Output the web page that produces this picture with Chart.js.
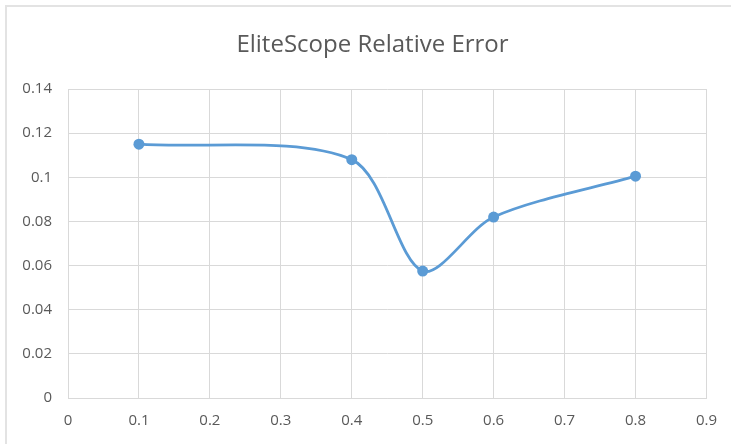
<!DOCTYPE html>
<html>
<head>
<meta charset="utf-8">
<script src="https://cdn.jsdelivr.net/npm/chart.js@4/dist/chart.umd.min.js"></script>
<style>
  html, body { margin: 0; padding: 0; background: #fff; }
  #wrap { position: relative; width: 731px; height: 444px; }
  #frame { position: absolute; left: 5px; top: 5px; right: 0; bottom: 0;
           border-top: 2px solid #e3e3e3; border-left: 2px solid #e3e3e3; }
  canvas { position: absolute; left: 0; top: 0; }
</style>
</head>
<body>
<div id="wrap">
  <div id="frame"></div>
  <canvas id="c" width="731" height="444"></canvas>
</div>
<script>
// Relative error measured at each sampling ratio
const ratios = [0.1, 0.4, 0.5, 0.6, 0.8];
const relativeError = [0.115, 0.108, 0.0575, 0.082, 0.1005];
const xTicks = [0, 0.1, 0.2, 0.3, 0.4, 0.5, 0.6, 0.7, 0.8, 0.9];
const yTicks = [0, 0.02, 0.04, 0.06, 0.08, 0.1, 0.12, 0.14];

const FONT = "'Open Sans', 'Liberation Sans', sans-serif";
const TEXT = '#595959';
const GRID = '#d9d9d9';
const BLUE = '#5b9bd5';

new Chart(document.getElementById('c'), {
  type: 'scatter',
  data: {
    datasets: [{
      data: ratios.map((r, i) => ({ x: r, y: relativeError[i] })),
      showLine: true,
      borderColor: BLUE,
      backgroundColor: BLUE,
      borderWidth: 2.75,
      pointRadius: 5.5,
      pointBorderWidth: 0,
      tension: 0.3
    }]
  },
  options: {
    responsive: false,
    animation: false,
    layout: { padding: { left: 14, right: 0, top: 0, bottom: 0 } },
    plugins: {
      legend: { display: false },
      tooltip: { enabled: false },
      title: {
        display: true,
        text: 'EliteScope Relative Error',
        color: TEXT,
        font: { family: FONT, size: 24, weight: 'normal' },
        padding: { top: 31, bottom: 29.2 }
      }
    },
    scales: {
      x: {
        type: 'linear',
        min: 0, max: 0.9,
        afterBuildTicks: s => { s.ticks = xTicks.map(v => ({ value: v })); },
        afterFit: s => { s.height = 46; },
        grid: { color: GRID, lineWidth: 1, drawTicks: false },
        border: { color: GRID },
        ticks: {
          color: TEXT, padding: 14,
          font: { family: FONT, size: 15 },
          callback: v => String(+v.toFixed(2))
        }
      },
      y: {
        type: 'linear',
        min: 0, max: 0.14,
        afterBuildTicks: s => { s.ticks = yTicks.map(v => ({ value: v })); },
        afterFit: s => { s.width = 54; },
        grid: { color: GRID, lineWidth: 1, drawTicks: false },
        border: { color: GRID },
        ticks: {
          color: TEXT, padding: 16,
          font: { family: FONT, size: 15 },
          callback: v => String(+v.toFixed(2))
        }
      },
      // empty right-hand gutter beside the plot
      gutter: {
        type: 'linear',
        position: 'right',
        afterFit: s => { s.width = 22; },
        grid: { display: false },
        border: { display: false },
        ticks: { display: false }
      }
    }
  }
});
</script>
</body>
</html>
